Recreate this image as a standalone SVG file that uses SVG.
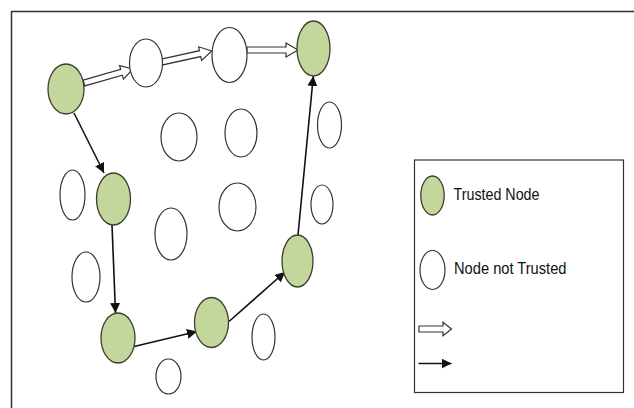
<svg xmlns="http://www.w3.org/2000/svg" xmlns:xlink="http://www.w3.org/1999/xlink" width="634" height="408" viewBox="0 0 634 408">
<style>
.t{fill:#c3d69b;stroke:#3a3f30;stroke-width:1.3}
.u{fill:#fff;stroke:#333;stroke-width:1.2}
.h{fill:#fff;stroke:#333;stroke-width:1.2;stroke-linejoin:miter}
.s{stroke:#111;stroke-width:1.6;fill:none;marker-end:url(#ah)}
.lbl{font-family:"Liberation Sans",Arial,sans-serif;font-size:17px;fill:#111}
</style>
<defs>
<marker id="ah" markerUnits="userSpaceOnUse" markerWidth="11" markerHeight="10" refX="10" refY="5" orient="auto">
<path d="M0,0L10,5L0,10Z" fill="#111"/>
</marker>
<path id="hollow" d="M0,-3H39V-7L51,0L39,7V3H0Z"/>
</defs>
<rect width="634" height="408" fill="#fff"/>
<g id="frame" fill="none" stroke="#333" stroke-width="1.5">
<path d="M634,11.5H11.5V408"/>
</g>
<g id="connectors">
<use xlink:href="#hollow" class="h" transform="translate(84,83) rotate(-15.9)"/>
<use xlink:href="#hollow" class="h" transform="translate(162,62) rotate(-12.4)"/>
<use xlink:href="#hollow" class="h" transform="translate(247,50)"/>
<line class="s" x1="74" y1="113" x2="104" y2="173"/>
<line class="s" x1="112" y1="225" x2="115.5" y2="313"/>
<line class="s" x1="134" y1="346.5" x2="197" y2="331.5"/>
<line class="s" x1="229" y1="321.5" x2="285" y2="272"/>
<line class="s" x1="298" y1="235" x2="313.3" y2="76"/>
</g>
<g id="nA"><ellipse class="t" cx="66" cy="89" rx="18" ry="25"/></g>
<g id="nB"><ellipse class="u" cx="146" cy="63" rx="16.5" ry="24"/></g>
<g id="nC"><ellipse class="u" cx="229.5" cy="55" rx="17.5" ry="27.5"/></g>
<g id="nD"><ellipse class="t" cx="313.5" cy="48.5" rx="16.5" ry="27.5"/></g>
<g id="nE"><ellipse class="u" cx="179" cy="137" rx="18" ry="24"/></g>
<g id="nF"><ellipse class="u" cx="241" cy="133" rx="16" ry="24"/></g>
<g id="nG"><ellipse class="u" cx="329.5" cy="125" rx="12" ry="23"/></g>
<g id="nH"><ellipse class="t" cx="113.5" cy="199" rx="17" ry="26"/></g>
<g id="nI"><ellipse class="u" cx="72.5" cy="195" rx="12.5" ry="25"/></g>
<g id="nJ"><ellipse class="u" cx="237.5" cy="207" rx="18.5" ry="24"/></g>
<g id="nK"><ellipse class="u" cx="322" cy="204.5" rx="11" ry="19.5"/></g>
<g id="nL"><ellipse class="u" cx="171" cy="234" rx="16" ry="26"/></g>
<g id="nM"><ellipse class="u" cx="86" cy="277" rx="14" ry="25"/></g>
<g id="nN"><ellipse class="t" cx="118" cy="338" rx="17" ry="25"/></g>
<g id="nO"><ellipse class="t" cx="211.5" cy="322.5" rx="17" ry="25"/></g>
<g id="nP"><ellipse class="t" cx="297.5" cy="261" rx="15.5" ry="26"/></g>
<g id="nQ"><ellipse class="u" cx="263.5" cy="337" rx="11.5" ry="23"/></g>
<g id="nR"><ellipse class="u" cx="168.5" cy="376.5" rx="12.5" ry="17.5"/></g>
<g id="legend">
<rect x="414.5" y="160" width="209" height="232.5" fill="#fff" stroke="#333" stroke-width="1.2"/>
<ellipse class="t" cx="432.5" cy="195.5" rx="11.7" ry="19.5"/>
<text class="lbl" x="453.5" y="199.5" textLength="86" lengthAdjust="spacingAndGlyphs">Trusted Node</text>
<ellipse class="u" cx="432.5" cy="270" rx="12.5" ry="19.5"/>
<text class="lbl" x="454" y="274" textLength="112.5" lengthAdjust="spacingAndGlyphs">Node not Trusted</text>
<path class="h" d="M419,326H443V322.3L451.5,329L443,335.7V332H419Z"/>
<line class="s" x1="418.5" y1="363.5" x2="451.5" y2="363.5"/>
</g>
</svg>
